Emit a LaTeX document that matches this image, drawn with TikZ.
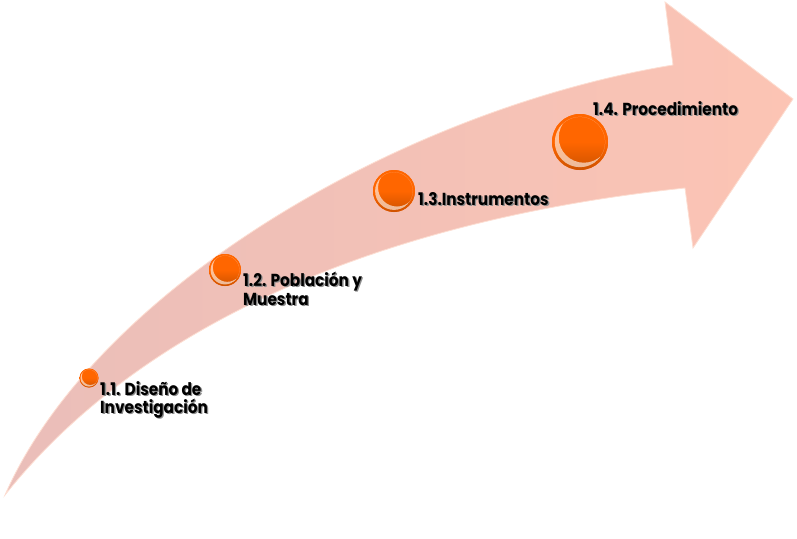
\documentclass[tikz,border=0pt]{standalone}
\usepackage{fontspec}
\usepackage{graphicx}
\setmainfont{Poppins}
\usetikzlibrary{shadings}
\definecolor{arrowhead}{RGB}{252,196,180}
\definecolor{arrowtail}{RGB}{234,190,185}
\definecolor{arrowedge}{RGB}{253,222,210}
\definecolor{ballorange}{RGB}{255,102,0}
\definecolor{balldark}{RGB}{205,82,0}
\definecolor{shadowgray}{RGB}{140,140,140}
\newcommand\shtxt[1]{\scalebox{1.02}[1.16]{\makebox[0pt][l]{\hspace{1.3pt}\raisebox{-1.2pt}{\color{shadowgray}#1}}#1}}
\tikzset{
  lbl/.style={anchor=base west, inner sep=0pt, font=\fontsize{15}{18}\selectfont\bfseries, text=black},
  ballnode/.style={circle, inner sep=0pt, fill=ballorange},
}
% name, x, y, radius
\newcommand\glossball[4]{%
  \node[ballnode, minimum size=2*#4 pt] (#1) at (#2,#3) {};
  \begin{scope}[shift={(#2,#3)}, scale=#4]
    \shade[top color=ballorange, bottom color=balldark, middle color=ballorange] (0,0) circle (1);
    \begin{scope}
      \clip (0,0) circle (0.9);
      \fill[white, opacity=0.6, even odd rule] (0,0) circle (0.9) (0.14,-0.16) circle (0.9);
    \end{scope}
  \end{scope}
}
\begin{document}
\begin{tikzpicture}[x=1pt,y=-1pt]
\useasboundingbox (0,0) rectangle (797,538);
% arrow
\path[left color=arrowtail, right color=arrowhead, draw=arrowedge, line width=0.8pt]
  (5,495) .. controls (95,290) and (400,110) .. (673,65)
  -- (665,2) -- (793,99) -- (693,248) -- (685,188)
  .. controls (380,220) and (140,325) .. (5,495) -- cycle;
% balls
\glossball{b1}{89}{378}{9.5}
\glossball{b2}{225}{270}{16}
\glossball{b3}{394}{191}{21}
\glossball{b4}{580}{142}{28}
% labels
\node[lbl] (l1a) at (100,395) {\shtxt{1.1. Diseño de}};
\node[lbl] (l1b) at (100,413) {\shtxt{Investigación}};
\node[lbl] (l2a) at (243,286) {\shtxt{1.2. Población y}};
\node[lbl] (l2b) at (243,305) {\shtxt{Muestra}};
\node[lbl] (l3) at (418,205) {\shtxt{1.3.Instrumentos}};
\node[lbl] (l4) at (593,115) {\shtxt{1.4. Procedimiento}};
\end{tikzpicture}
\end{document}
